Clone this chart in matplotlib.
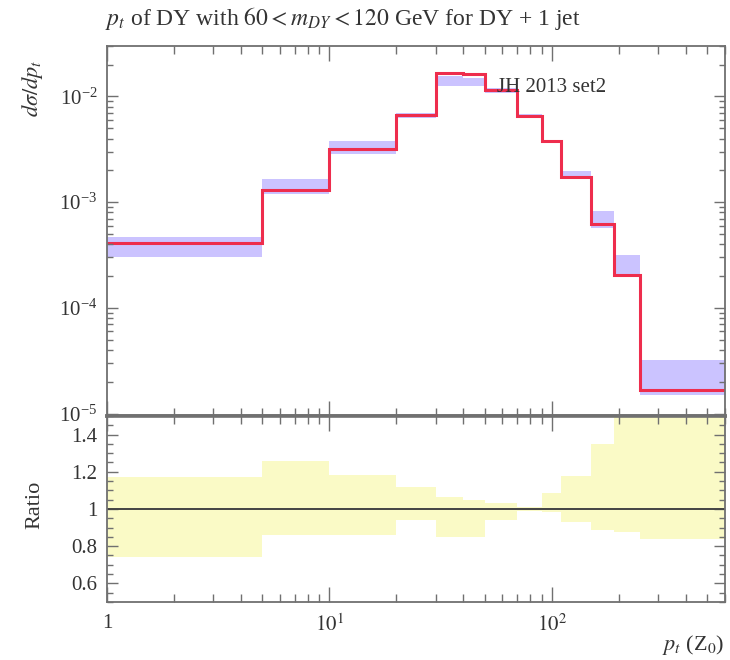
import matplotlib
matplotlib.use("Agg")
import matplotlib.pyplot as plt
from matplotlib.ticker import FixedLocator, NullFormatter, LogLocator
import numpy as np

plt.rcParams['font.family'] = ['Liberation Serif', 'DejaVu Serif']
plt.rcParams['mathtext.fontset'] = 'stix'

# pt bin edges (GeV)
edges = [1, 5, 10, 20, 30, 40, 50, 70, 90, 110, 150, 190, 250, 600]

# central prediction, JH 2013 set2
xsec = [4.14e-4, 1.31e-3, 3.2e-3, 6.68e-3, 1.65e-2, 1.62e-2, 1.16e-2,
        6.58e-3, 3.79e-3, 1.74e-3, 6.19e-4, 2.06e-4, 1.68e-5]

# uncertainty band on the cross section
band_lo = [3.03e-4, 1.19e-3, 2.87e-3, 6.2e-3, 1.25e-2, 1.25e-2, 1.08e-2,
           6.3e-3, 3.6e-3, 1.65e-3, 5.67e-4, 2.03e-4, 1.49e-5]
band_hi = [4.7e-4, 1.65e-3, 3.79e-3, 6.97e-3, 1.56e-2, 1.50e-2, 1.2e-2,
           6.8e-3, 3.9e-3, 1.98e-3, 8.3e-4, 3.19e-4, 3.2e-5]

# ratio band
ratio_lo = [0.74, 0.86, 0.86, 0.94, 0.85, 0.85, 0.94,
            0.99, 0.985, 0.93, 0.885, 0.875, 0.84]
ratio_hi = [1.17, 1.26, 1.185, 1.12, 1.065, 1.05, 1.03,
            1.01, 1.085, 1.18, 1.35, 1.6, 1.6]

frame = '#707070'
red = '#ee2d4d'
ink = '#333333'

fig = plt.figure(figsize=(7.3, 6.6), dpi=100)
ax = fig.add_axes([0.1466, 0.3697, 0.8464, 0.5606])
rax = fig.add_axes([0.1466, 0.0879, 0.8464, 0.2818], sharex=ax)

# main panel
ax.stairs(band_hi, edges, baseline=band_lo, fill=True, color='#cbc3ff', lw=0)
ax.stairs(xsec, edges, baseline=None, color=red, lw=2.2)
ax.set_xscale('log')
ax.set_yscale('log')
ax.set_xlim(1, 600)
ax.set_ylim(0.95e-5, 3.0e-2)
fig.text(497 / 730, 1 - 88 / 660, 'JH 2013 set2', fontsize=15, color=ink,
         va='center', ha='left')

# ratio panel
rax.stairs(ratio_hi, edges, baseline=ratio_lo, fill=True, color='#fafac6', lw=0)
rax.axhline(1.0, color='#444444', lw=1.4)
rax.set_ylim(0.5, 1.5)
rax.set_yticks([0.6, 0.8, 1.0, 1.2, 1.4])
rax.set_yticklabels(['0.6', '0.8', '1', '1.2', '1.4'])
rax.yaxis.set_minor_locator(FixedLocator(np.arange(0.5, 1.51, 0.05)))
rax.set_xticks([1, 10, 100])
rax.set_xticklabels(['1', r'$10^{1}$', r'$10^{2}$'])
rax.xaxis.set_minor_locator(LogLocator(base=10, subs=np.arange(2, 10)))
rax.xaxis.set_minor_formatter(NullFormatter())

ax.yaxis.set_major_locator(LogLocator(base=10, numticks=10))
ax.yaxis.set_minor_locator(LogLocator(base=10, subs=np.arange(2, 10), numticks=10))
ax.yaxis.set_minor_formatter(NullFormatter())
ax.tick_params(axis='x', which='both', labelbottom=False)

for a in (ax, rax):
    for s in a.spines.values():
        s.set_color(frame)
        s.set_linewidth(1.3)
    a.tick_params(which='both', direction='in', top=True, right=True,
                  color=frame, width=1.0, labelsize=15, labelcolor=ink)
    a.tick_params(which='major', length=8)
    a.tick_params(which='minor', length=4.5)
    a.tick_params(axis='x', which='major', length=11)
    a.tick_params(axis='x', which='minor', length=6)
ax.spines['bottom'].set_linewidth(2.6)
rax.spines['top'].set_linewidth(2.6)
rax.tick_params(axis='x', pad=9)
ax.tick_params(axis='y', pad=7)
rax.tick_params(axis='y', pad=7)

fig.text(0.1438, 1 - 18 / 660,
         r'$p_t$ of DY with $60 < m_{DY} < 120$ GeV for DY + 1 jet',
         fontsize=17, color=ink, ha='left', va='center')
fig.text(0.045, 1 - 88 / 660, r'$d\sigma/dp_t$', rotation=90,
         fontsize=16, color=ink, ha='center', va='center')
fig.text(0.048, 1 - 505 / 660, 'Ratio', rotation=90,
         fontsize=16, color=ink, ha='center', va='center')
fig.text(0.993, 1 - 645 / 660, r'$p_t$ (Z$_0$)',
         fontsize=16, color=ink, ha='right', va='center')

fig.savefig('out.png', dpi=100)
